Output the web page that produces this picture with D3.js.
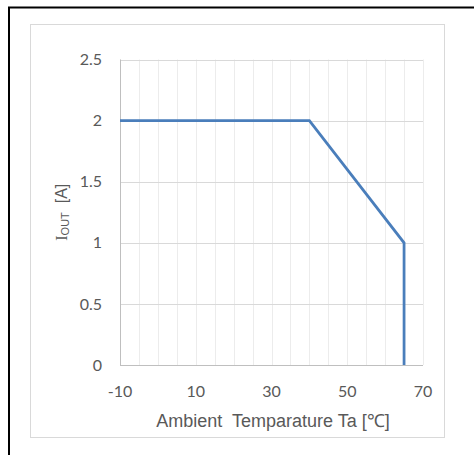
<!DOCTYPE html>
<html>
<head>
<meta charset="utf-8">
<script src="https://cdn.jsdelivr.net/npm/d3@7"></script>
<style>
  html, body { margin: 0; padding: 0; background: #fff; }
  svg { display: block; }
</style>
</head>
<body>
<script>
// ---- data ----
const temperatures = [-10, 40, 65, 65];
const currents = [2, 2, 1, 0];
const xTickLabels = [-10, 10, 30, 50, 70];
const yTickLabels = [0, 0.5, 1, 1.5, 2, 2.5];
const xGridValues = d3.range(-10, 71, 5);
const xTitle = "Ambient  Temparature Ta [\u2103]";

const W = 474, H = 455;
const svg = d3.select("body").append("svg").attr("width", W).attr("height", H);

// outer black frame (extends past right/bottom)
svg.append("rect").attr("x", 9).attr("y", 7.5).attr("width", 480).attr("height", 470)
  .attr("fill", "none").attr("stroke", "#000").attr("stroke-width", 2);
// inner chart border
svg.append("rect").attr("x", 30.5).attr("y", 24.5).attr("width", 414).attr("height", 413)
  .attr("fill", "#fff").attr("stroke", "#d9d9d9").attr("stroke-width", 1);

const pL = 120, pR = 423, pT = 59.5, pB = 365;
const x = d3.scaleLinear().domain([-10, 70]).range([pL, pR]);
const y = d3.scaleLinear().domain([0, 2.5]).range([pB, pT]);

const tickFont = "Lato, 'Open Sans', sans-serif";
const textColor = "#595959";

// vertical gridlines
svg.append("g").selectAll("line").data(xGridValues).join("line")
  .attr("x1", d => Math.round(x(d)) + 0.5).attr("x2", d => Math.round(x(d)) + 0.5)
  .attr("y1", pT).attr("y2", pB)
  .attr("stroke", "#ececec").attr("stroke-width", 1);
// horizontal gridlines
svg.append("g").selectAll("line").data(yTickLabels).join("line")
  .attr("x1", pL).attr("x2", pR)
  .attr("y1", d => Math.round(y(d)) + 0.5).attr("y2", d => Math.round(y(d)) + 0.5)
  .attr("stroke", "#d9d9d9").attr("stroke-width", 1);

// axis lines
svg.append("line").attr("x1", pL + 0.5).attr("x2", pL + 0.5).attr("y1", pT).attr("y2", pB)
  .attr("stroke", "#bfbfbf");
svg.append("line").attr("x1", pL).attr("x2", pR).attr("y1", Math.round(y(0)) + 0.5).attr("y2", Math.round(y(0)) + 0.5)
  .attr("stroke", "#bfbfbf");

// y tick labels
svg.append("g").selectAll("text").data(yTickLabels).join("text")
  .attr("x", 102).attr("y", d => y(d)).attr("dy", "0.35em")
  .attr("text-anchor", "end")
  .attr("font-family", tickFont).attr("font-size", 16).attr("fill", textColor)
  .text(d => d);

// x tick labels
svg.append("g").selectAll("text").data(xTickLabels).join("text")
  .attr("x", d => x(d)).attr("y", 397)
  .attr("text-anchor", "middle")
  .attr("font-family", tickFont).attr("font-size", 16).attr("fill", textColor)
  .text(d => d);

// x title
svg.append("text").attr("x", 273).attr("y", 427)
  .attr("text-anchor", "middle")
  .attr("font-family", "'Liberation Sans', Arial, sans-serif").attr("font-size", 18)
  .attr("fill", textColor).style("white-space", "pre")
  .text(xTitle);

// y title
const yt = svg.append("text")
  .attr("transform", `translate(67, ${(pT + pB) / 2}) rotate(-90)`)
  .attr("text-anchor", "middle")
  .attr("font-family", "'Liberation Serif', 'Times New Roman', serif").attr("font-size", 16)
  .attr("fill", textColor).style("white-space", "pre");
yt.append("tspan").text("I");
yt.append("tspan").attr("font-family", "'Liberation Sans', Arial, sans-serif").attr("font-size", 11).attr("dy", 2).text("OUT");
yt.append("tspan").attr("font-family", "'Liberation Sans', Arial, sans-serif").attr("dy", -2).text("  [A]");

// data line
const line = d3.line().x((d, i) => x(temperatures[i])).y(d => y(d));
svg.append("path").datum(currents)
  .attr("d", line)
  .attr("fill", "none").attr("stroke", "#4a7ebb").attr("stroke-width", 2.75)
  .attr("stroke-linejoin", "miter");
</script>
</body>
</html>
